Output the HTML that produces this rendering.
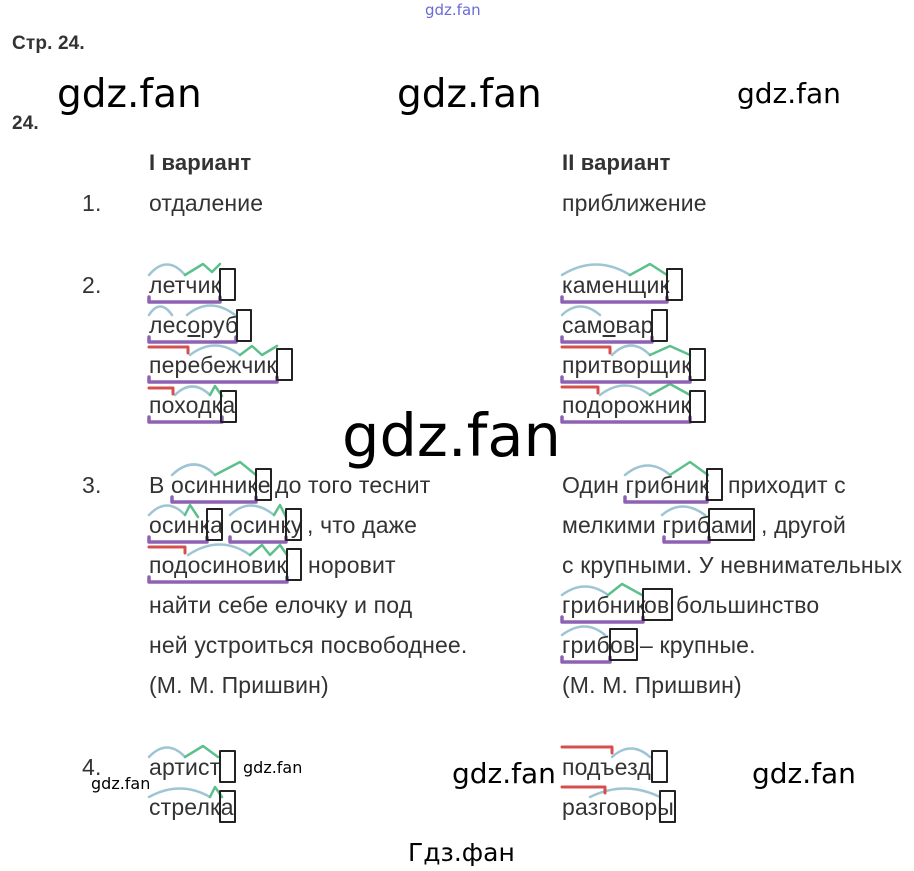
<!DOCTYPE html>
<html><head><meta charset="utf-8"><style>
body{margin:0;width:914px;height:871px;background:#fff;position:relative;overflow:hidden;font-family:"Liberation Sans",Arial,sans-serif;color:#333}
.t{position:absolute;font-size:23px;line-height:24px;white-space:nowrap;letter-spacing:0.15px;margin-top:0px}
.b{font-weight:bold}
.w{position:absolute;font-family:"DejaVu Sans",sans-serif;color:#000;white-space:nowrap;line-height:1}
svg{position:absolute;left:0;top:0}
</style></head><body>
<div class="w" style="left:425px;top:3px;font-size:15px;color:#6a6ad8">gdz.fan</div>
<div class="t b" style="left:12px;top:32px;font-size:19px">Стр. 24.</div>
<div class="t b" style="left:12px;top:112px;font-size:19px">24.</div>
<div class="w" style="left:57px;top:75px;font-size:39px">gdz.fan</div>
<div class="w" style="left:397px;top:75px;font-size:39px">gdz.fan</div>
<div class="w" style="left:737px;top:80px;font-size:28px">gdz.fan</div>
<div class="w" style="left:342px;top:406px;font-size:59px">gdz.fan</div>
<div class="w" style="left:452px;top:760px;font-size:28px">gdz.fan</div>
<div class="w" style="left:752px;top:760px;font-size:28px">gdz.fan</div>
<div class="w" style="left:243px;top:760px;font-size:16px">gdz.fan</div>
<div class="w" style="left:91px;top:776px;font-size:16px">gdz.fan</div>
<div class="w" style="left:408px;top:840px;font-size:25px;font-family:'DejaVu Sans',sans-serif">Гдз.фан</div>

<div class="t b" style="left:149px;top:151px;font-size:22px">I вариант</div>
<div class="t b" style="left:562px;top:151px;font-size:22px">II вариант</div>
<div class="t" style="left:82px;top:191px">1.</div>
<div class="t" style="left:149px;top:191px">отдаление</div>
<div class="t" style="left:562px;top:191px">приближение</div>
<div class="t" style="left:82px;top:273px">2.</div>
<div class="t" style="left:149px;top:273px">летчик</div>
<div class="t" style="left:149px;top:313px">лес<u>о</u>руб</div>
<div class="t" style="left:149px;top:353px">перебежчик</div>
<div class="t" style="left:149px;top:393px">походка</div>
<div class="t" style="left:562px;top:273px">каменщик</div>
<div class="t" style="left:562px;top:313px">сам<u>о</u>вар</div>
<div class="t" style="left:562px;top:353px">притворщик</div>
<div class="t" style="left:562px;top:393px">подорожник</div>
<div class="t" style="left:82px;top:473px">3.</div>
<div class="t" style="left:149px;top:473px">В осиннике<span style="position:absolute;left:126px">до того теснит</span></div>
<div class="t" style="left:149px;top:513px">осинка<span style="position:absolute;left:81px">осинку</span><span style="position:absolute;left:158px">, что даже</span></div>
<div class="t" style="left:149px;top:553px">подосиновик<span style="position:absolute;left:159px">норовит</span></div>
<div class="t" style="left:149px;top:593px">найти себе елочку и под</div>
<div class="t" style="left:149px;top:633px">ней устроиться посвободнее.</div>
<div class="t" style="left:149px;top:673px">(М. М. Пришвин)</div>
<div class="t" style="left:562px;top:473px">Один грибник<span style="position:absolute;left:166px">приходит с</span></div>
<div class="t" style="left:562px;top:513px">мелкими гриб<span style="position:absolute;left:149px">ами</span><span style="position:absolute;left:199px">, другой</span></div>
<div class="t" style="left:562px;top:553px">с крупными. У невнимательных</div>
<div class="t" style="left:562px;top:593px">грибник<span style="position:absolute;left:82px">ов</span><span style="position:absolute;left:114px">большинство</span></div>
<div class="t" style="left:562px;top:633px">гриб<span style="position:absolute;left:48px">ов</span><span style="position:absolute;left:78px">– крупные.</span></div>
<div class="t" style="left:562px;top:673px">(М. М. Пришвин)</div>
<div class="t" style="left:82px;top:755px">4.</div>
<div class="t" style="left:149px;top:755px">артист</div>
<div class="t" style="left:149px;top:795px">стрелка</div>
<div class="t" style="left:562px;top:755px">подъезд</div>
<div class="t" style="left:562px;top:795px">разговоры</div>

<svg width="914" height="871" fill="none" stroke-width="2.5" stroke-linecap="round" stroke-linejoin="round">
<g stroke="#9ec5d4">
<path d="M149 275Q167 254 185 275"/>
<path d="M149 315Q160 298 172 315M187 315Q210 296 235 315"/>
<path d="M190 355Q215 336 240 355"/>
<path d="M175 395Q192 378 210 395"/>
<path d="M562 275Q596 254 630 275"/>
<path d="M562 315Q580 298 600 315"/>
<path d="M612 355Q631 336 650 355"/>
<path d="M600 395Q625 376 650 395"/>
<path d="M172 475Q194 454 215 475"/>
<path d="M149 515Q167 496 185 515M230 515Q250 496 274 515"/>
<path d="M188 555Q220 534 250 555"/>
<path d="M625 475Q648 456 670 475"/>
<path d="M662 515Q682 498 705 515"/>
<path d="M562 595Q585 578 608 595"/>
<path d="M562 635Q585 618 605 635"/>
<path d="M149 757Q167 738 185 757"/>
<path d="M149 797Q180 780 210 797"/>
<path d="M612 757Q631 740 650 757"/>
<path d="M590 797Q625 780 660 797"/>
</g>
<g stroke="#5cc08c">
<path d="M185 275L203 264L212 272L220 264"/>
<path d="M240 355L252 346L262 355L277 346"/>
<path d="M210 395L215 386L222 396"/>
<path d="M630 275L650 264L667 275"/>
<path d="M650 355L670 346L690 355"/>
<path d="M650 395L670 384L690 395"/>
<path d="M215 475L240 462L256 475"/>
<path d="M185 515L190 505L198 517"/>
<path d="M274 515L280 505L286 517"/>
<path d="M250 555L262 545L270 555L280 545L287 555"/>
<path d="M670 475L690 462L708 475"/>
<path d="M608 595L622 584L642 595"/>
<path d="M185 757L203 746L218 757"/>
<path d="M210 797L215 787L222 797"/>
</g>
<g stroke="#d4504e" stroke-width="3">
<path d="M149 347L188 347L188 353"/>
<path d="M149 388L173 388L173 394"/>
<path d="M149 547L185 547L185 553"/>
<path d="M562 347L610 347L610 353"/>
<path d="M562 387L598 387L598 393"/>
<path d="M562 747L612 747L612 753"/>
<path d="M562 787L605 787L605 793"/>
</g>
<g stroke="#8e62b3" stroke-width="3.5">
<path d="M149 297L149 302L220 302L220 297"/>
<path d="M149 337L149 342L236 342L236 337"/>
<path d="M149 377L149 382L277 382L277 377"/>
<path d="M149 417L149 422L222 422L222 417"/>
<path d="M562 297L562 302L667 302L667 297"/>
<path d="M562 337L562 342L652 342L652 337"/>
<path d="M562 377L562 382L690 382L690 377"/>
<path d="M562 417L562 422L690 422L690 417"/>
<path d="M172 497L172 502L256 502L256 497"/>
<path d="M149 537L149 542L207 542L207 537"/>
<path d="M230 537L230 542L286 542L286 537"/>
<path d="M149 577L149 582L287 582L287 577"/>
<path d="M625 497L625 502L707 502L707 497"/>
<path d="M664 537L664 542L709 542L709 537"/>
<path d="M562 617L562 622L643 622L643 617"/>
<path d="M562 657L562 662L610 662L610 657"/>
</g>
<g stroke="#222" stroke-width="2">
<rect x="220" y="269" width="15" height="31"/>
<rect x="237" y="310" width="14" height="31"/>
<rect x="277" y="349" width="15" height="31"/>
<rect x="221" y="391" width="15" height="31"/>
<rect x="667" y="269" width="15" height="31"/>
<rect x="652" y="310" width="15" height="31"/>
<rect x="690" y="349" width="15" height="31"/>
<rect x="690" y="391" width="15" height="31"/>
<rect x="256" y="469" width="15" height="31"/>
<rect x="207" y="509" width="15" height="31"/>
<rect x="286" y="509" width="15" height="31"/>
<rect x="287" y="549" width="14" height="31"/>
<rect x="707" y="469" width="15" height="31"/>
<rect x="709" y="509" width="45" height="31"/>
<rect x="643" y="589" width="29" height="31"/>
<rect x="610" y="629" width="27" height="31"/>
<rect x="220" y="751" width="15" height="31"/>
<rect x="220" y="791" width="15" height="31"/>
<rect x="652" y="751" width="15" height="31"/>
<rect x="660" y="791" width="15" height="31"/>
</g>
</svg>
</body></html>
